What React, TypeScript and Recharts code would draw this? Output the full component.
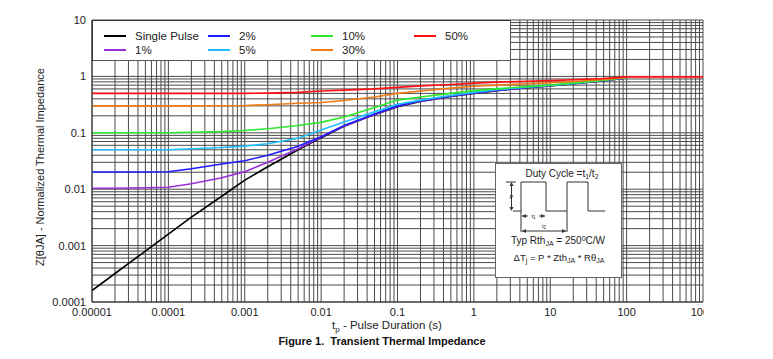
import React from 'react';
import { LineChart, Line, XAxis, YAxis, CartesianGrid } from 'recharts';

// Pulse duration (s)
const tp = [1e-5, 2e-5, 5e-5, 1e-4, 2e-4, 5e-4, 1e-3, 2e-3, 5e-3, 1e-2, 2e-2, 5e-2, 0.1, 0.2, 0.5, 1, 2, 5, 10, 20, 50, 100, 1000];

// Normalized thermal impedance per duty cycle
const singlePulse = [1.6e-4, 3.2e-4, 8e-4, 1.6e-3, 3.2e-3, 7.5e-3, 0.0145, 0.025, 0.05, 0.082, 0.13, 0.21, 0.29, 0.36, 0.44, 0.5, 0.56, 0.63, 0.68, 0.74, 0.84, 0.94, null];
const duty1 = [0.0104, 0.0104, 0.0106, 0.0108, 0.0125, 0.016, 0.0205, 0.03, 0.052, 0.084, 0.132, 0.212, 0.295, 0.365, 0.445, 0.505, 0.565, 0.635, 0.685, 0.745, 0.845, 0.945, null];
const duty2 = [0.0202, 0.0202, 0.0202, 0.0204, 0.023, 0.028, 0.032, 0.04, 0.058, 0.085, 0.135, 0.215, 0.3, 0.37, 0.45, 0.51, 0.57, 0.64, 0.688, 0.748, 0.848, 0.948, null];
const duty5 = [0.05, 0.05, 0.05, 0.05, 0.052, 0.055, 0.058, 0.064, 0.08, 0.112, 0.155, 0.235, 0.32, 0.38, 0.46, 0.52, 0.58, 0.645, 0.692, 0.752, 0.852, 0.952, null];
const duty10 = [0.1, 0.1, 0.1, 0.1, 0.102, 0.105, 0.11, 0.118, 0.135, 0.153, 0.19, 0.28, 0.38, 0.43, 0.5, 0.56, 0.6, 0.66, 0.7, 0.76, 0.86, 0.96, null];
const duty30 = [0.3, 0.3, 0.3, 0.3, 0.3, 0.302, 0.305, 0.315, 0.335, 0.345, 0.375, 0.43, 0.5, 0.55, 0.62, 0.67, 0.7, 0.74, 0.77, 0.81, 0.88, 0.96, null];
const duty50 = [0.5, 0.5, 0.5, 0.5, 0.5, 0.5, 0.5, 0.505, 0.52, 0.55, 0.57, 0.6, 0.64, 0.68, 0.72, 0.76, 0.79, 0.82, 0.84, 0.87, 0.92, 0.98, 0.98];

// Axis decade ticks and labels
const xDecades = [1e-5, 1e-4, 1e-3, 1e-2, 1e-1, 1, 10, 100, 1000];
const xLabels = ['0.00001', '0.0001', '0.001', '0.01', '0.1', '1', '10', '100', '1000'];
const yDecades = [1e-4, 1e-3, 1e-2, 1e-1, 1, 10];
const yLabels = ['0.0001', '0.001', '0.01', '0.1', '1', '10'];

const series = [
  { key: 'single', name: 'Single Pulse', color: '#000000', values: singlePulse, col: 0, row: 0 },
  { key: 'd1', name: '1%', color: '#9b30d9', values: duty1, col: 0, row: 1 },
  { key: 'd2', name: '2%', color: '#1c1cff', values: duty2, col: 1, row: 0 },
  { key: 'd5', name: '5%', color: '#1ec0ff', values: duty5, col: 1, row: 1 },
  { key: 'd10', name: '10%', color: '#2ee82e', values: duty10, col: 2, row: 0 },
  { key: 'd30', name: '30%', color: '#f07a14', values: duty30, col: 2, row: 1 },
  { key: 'd50', name: '50%', color: '#ff1010', values: duty50, col: 3, row: 0 },
];

const rows = tp.map((t, i) => {
  const r: Record<string, number | null> = { tp: t };
  series.forEach((s) => {
    r[s.key] = s.values[i];
  });
  return r;
});

function withMinors(decades: number[]): number[] {
  const out: number[] = [];
  for (let i = 0; i < decades.length; i++) {
    out.push(decades[i]);
    if (i < decades.length - 1) {
      for (let m = 2; m <= 9; m++) out.push(decades[i] * m);
    }
  }
  return out;
}
const xTicks = withMinors(xDecades);
const yTicks = withMinors(yDecades);

function labelFor(v: number, decades: number[], labels: string[]): string | null {
  for (let i = 0; i < decades.length; i++) {
    if (Math.abs(v - decades[i]) / decades[i] < 1e-6) return labels[i];
  }
  return null;
}

const FONT = '"Liberation Sans", Arial, sans-serif';

const XTick = (props: any) => {
  const { x, y, payload } = props;
  const lab = labelFor(payload.value, xDecades, xLabels);
  if (!lab) return null;
  const t = (
    <text x={x} y={y} dy="0.71em" textAnchor="middle" fontSize={11} fill="#222" fontFamily={FONT}>
      {lab}
    </text>
  );
  if (lab === '1000') {
    return (
      <g>
        <clipPath id="clip1000">
          <rect x={x - 14} y={y - 2} width={15} height={20} />
        </clipPath>
        <g clipPath="url(#clip1000)">{t}</g>
      </g>
    );
  }
  return t;
};

const YTick = (props: any) => {
  const { x, y, payload } = props;
  const lab = labelFor(payload.value, yDecades, yLabels);
  if (!lab) return null;
  return (
    <text x={x} y={y} dy="0.355em" textAnchor="end" fontSize={11} fill="#222" fontFamily={FONT}>
      {lab}
    </text>
  );
};

const colX = [11, 115, 218, 321];
const rowY = [15, 29];

export default function App() {
  return (
    <div style={{ position: 'absolute', left: 0, top: 0, width: 773, height: 359, background: '#fff', fontFamily: FONT }}>
      <LineChart width={773} height={359} data={rows} margin={{ top: 20, right: 70, bottom: 0, left: 0 }}>
        <CartesianGrid stroke="#4a4a4a" strokeWidth={1} />
        <XAxis
          dataKey="tp"
          type="number"
          scale="log"
          domain={[1e-5, 1000]}
          ticks={xTicks}
          interval={0}
          allowDataOverflow
          height={57}
          tickLine={false}
          tickSize={4}
          tickMargin={2}
          axisLine={{ stroke: '#333' }}
          tick={<XTick />}
        />
        <YAxis
          type="number"
          scale="log"
          domain={[1e-4, 10]}
          ticks={yTicks}
          interval={0}
          allowDataOverflow
          width={92}
          tickLine={false}
          tickSize={4}
          tickMargin={2}
          axisLine={{ stroke: '#333' }}
          tick={<YTick />}
        />
        {series.map((s) => (
          <Line
            key={s.key}
            dataKey={s.key}
            name={s.name}
            stroke={s.color}
            strokeWidth={1.6}
            dot={false}
            type="linear"
            isAnimationActive={false}
          />
        ))}
      </LineChart>

      {/* Legend box */}
      <div
        style={{
          position: 'absolute',
          left: 92,
          top: 20,
          width: 419,
          height: 41,
          background: '#fff',
          borderRight: '1px solid #555',
          borderBottom: '1px solid #555',
          borderTop: '1px solid #333',
          borderLeft: '1px solid #333',
          boxSizing: 'border-box',
        }}
      >
        {series.map((s) => (
          <div key={s.key} style={{ position: 'absolute', left: colX[s.col], top: rowY[s.row] - 8, height: 16, display: 'flex', alignItems: 'center' }}>
            <div style={{ width: 22, height: 2, background: s.color }} />
            <span style={{ marginLeft: 9, fontSize: 11.5, color: '#222', lineHeight: '16px' }}>{s.name}</span>
          </div>
        ))}
      </div>

      {/* Overlay texts and inset */}
      <svg width={773} height={359} style={{ position: 'absolute', left: 0, top: 0, pointerEvents: 'none' }} fontFamily={FONT}>
        <text x={44} y={167} transform="rotate(-90 44 167)" textAnchor="middle" fontSize={11} fill="#222">
          Z[θJA] - Normalized Thermal Impedance
        </text>
        <text x={387} y={329} textAnchor="middle" fontSize={11.5} fill="#222">
          t<tspan fontSize={8} dy={3}>p</tspan>
          <tspan dy={-3}> - Pulse Duration (s)</tspan>
        </text>
        <text x={382} y={345} textAnchor="middle" fontSize={11} fontWeight="bold" fill="#111">
          {'Figure 1.\u00a0 Transient Thermal Impedance'}
        </text>

        {/* Inset */}
        <rect x={495.5} y={163.5} width={126} height={114} fill="#fff" stroke="#666" strokeWidth={1} />
        <text x={562} y={177} textAnchor="middle" fontSize={10} fill="#222">
          Duty Cycle =t<tspan fontSize={7} dy={2}>1</tspan>
          <tspan dy={-2}>/t</tspan>
          <tspan fontSize={7} dy={2}>2</tspan>
        </text>
        <path
          d="M513 211 H521 V182 H546 V211 H567 V182 H588 V211 H605"
          fill="none"
          stroke="#333"
          strokeWidth={1}
        />
        <path d="M521 211 V232 M567 211 V232" fill="none" stroke="#333" strokeWidth={1} />
        {/* P arrow */}
        <path d="M506 182 H516 M511.5 183 V210" fill="none" stroke="#333" strokeWidth={1} />
        <path d="M511.5 182 l-2 4 h4 z M511.5 211 l-2 -4 h4 z" fill="#333" />
        <text x={511.5} y={199} textAnchor="middle" fontSize={6} fill="#222">P</text>
        {/* t1 arrow */}
        <path d="M522 216 H528 M539 216 H545" fill="none" stroke="#333" strokeWidth={1} />
        <path d="M522 216 l4 -2 v4 z M545 216 l-4 -2 v4 z" fill="#333" />
        <text x={533.5} y={218} textAnchor="middle" fontSize={6} fill="#222">t<tspan fontSize={4.5} dy={1}>1</tspan></text>
        {/* t2 arrow */}
        <path d="M522 231 H566" fill="none" stroke="#333" strokeWidth={1} />
        <path d="M522 231 l4 -2 v4 z M566 231 l-4 -2 v4 z" fill="#333" />
        <text x={544} y={228} textAnchor="middle" fontSize={6} fill="#222">t<tspan fontSize={4.5} dy={1}>2</tspan></text>
        <text x={558} y={244} textAnchor="middle" fontSize={10} fill="#222">
          Typ Rth<tspan fontSize={7} dy={2}>JA</tspan>
          <tspan dy={-2}> = 250</tspan>
          <tspan fontSize={7} dy={-3}>0</tspan>
          <tspan dy={3}>C/W</tspan>
        </text>
        <text x={559} y={261} textAnchor="middle" fontSize={9.5} fill="#222">
          ΔT<tspan fontSize={7} dy={2}>j</tspan>
          <tspan dy={-2}> = P * Zth</tspan>
          <tspan fontSize={7} dy={2}>JA</tspan>
          <tspan dy={-2}> * Rθ</tspan>
          <tspan fontSize={7} dy={2}>JA</tspan>
        </text>
      </svg>
    </div>
  );
}
